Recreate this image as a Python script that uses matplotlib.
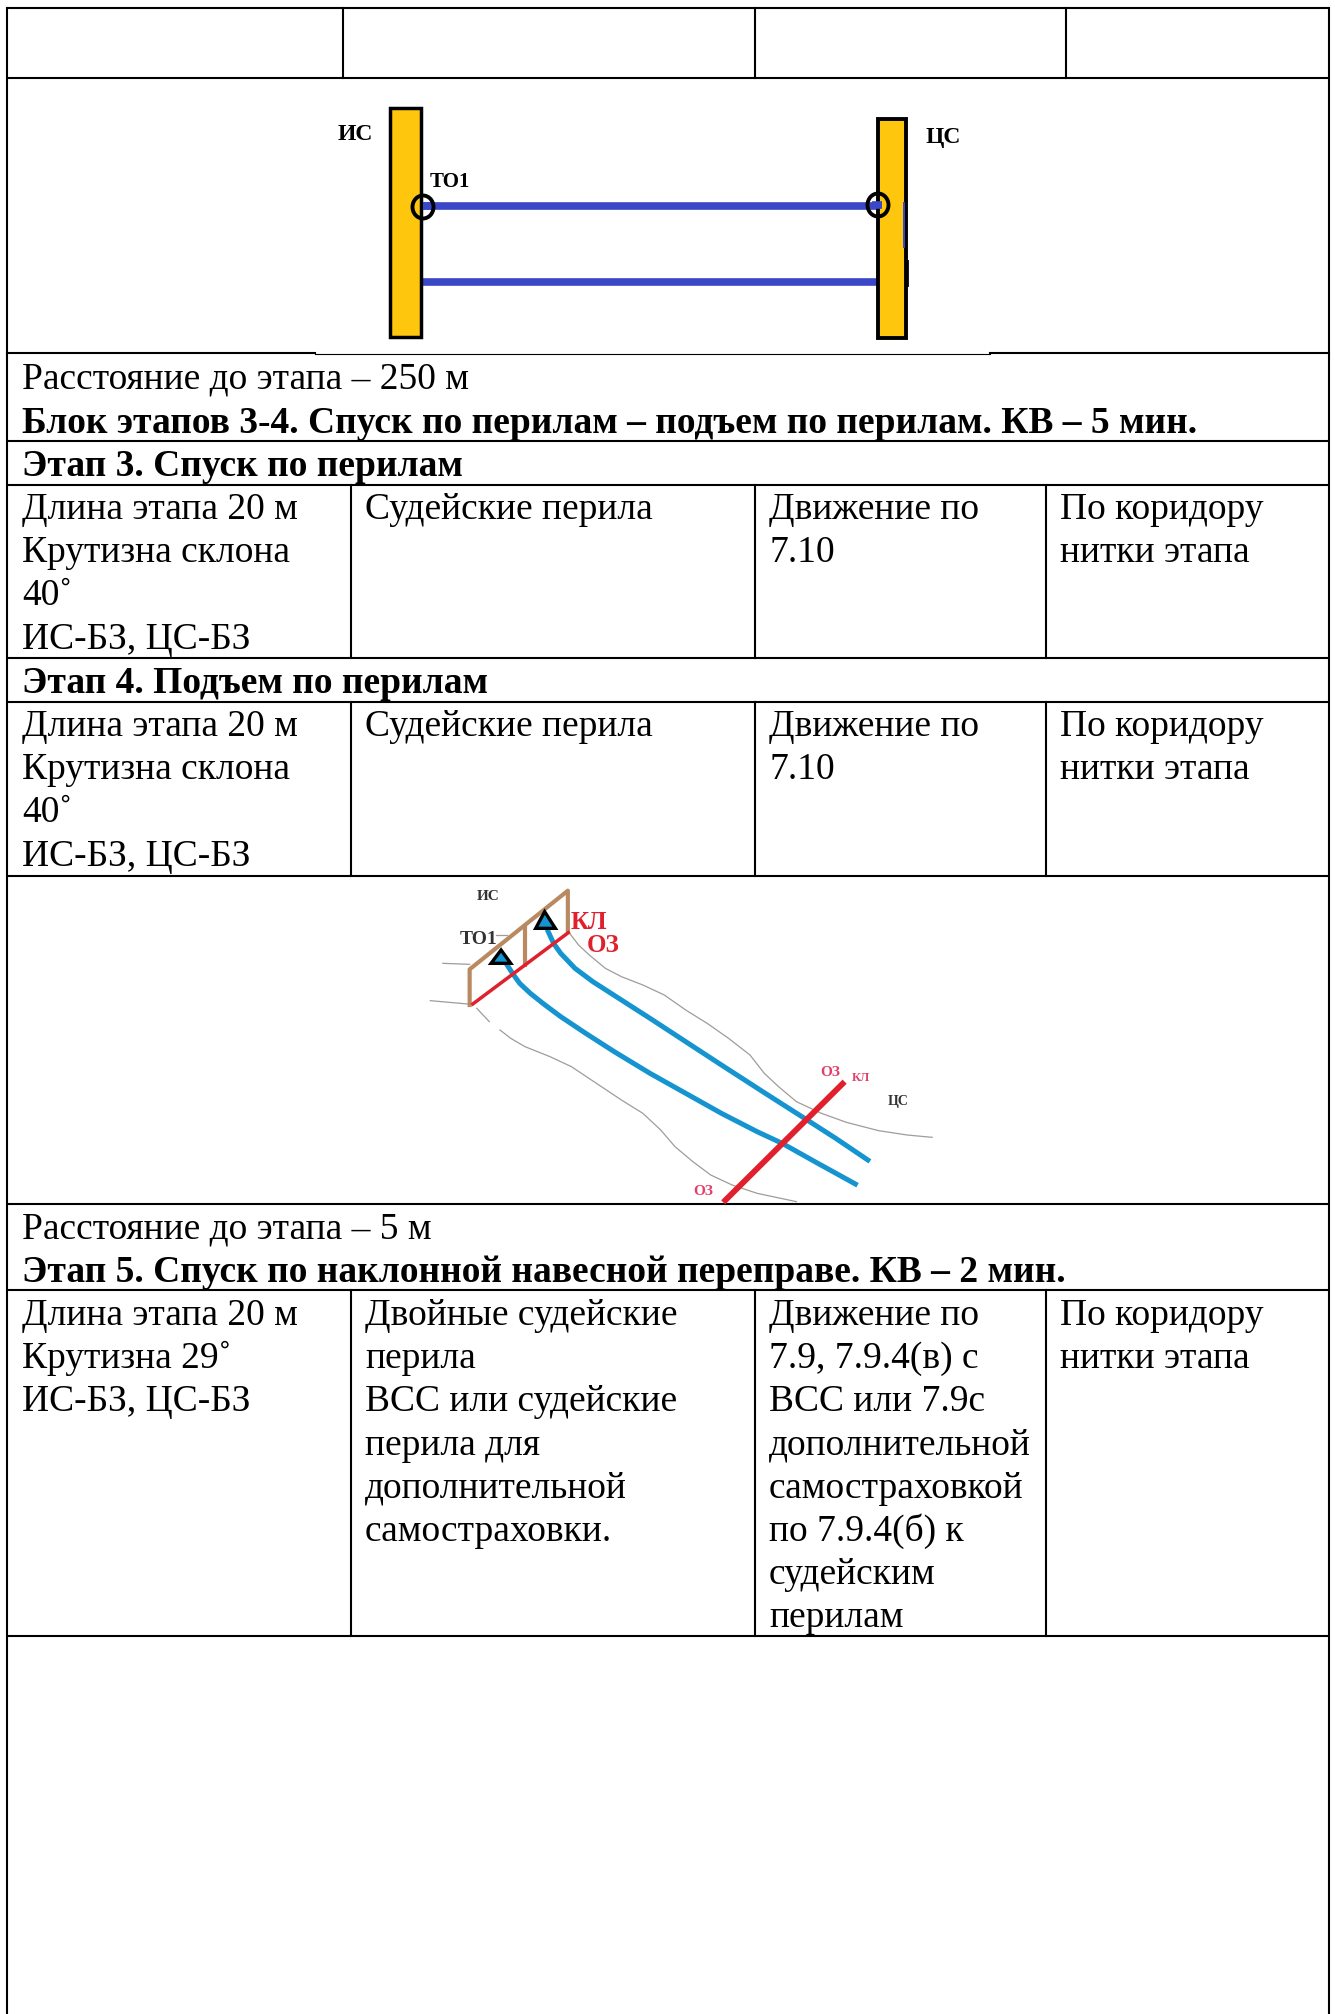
import matplotlib

matplotlib.use("Agg")
import matplotlib.pyplot as plt
from matplotlib.patches import Ellipse, Polygon, Rectangle

WIDTH, HEIGHT = 1335, 2014
SERIF = "Liberation Serif"
BLUE = "#3a48c8"
YELLOW = "#fec60c"
CYAN = "#1594d0"
RED = "#e0202c"
PINK = "#e0406a"
BROWN = "#b98a62"
GREY = "#a09c98"

# table rules, in reference pixels
H_RULES = [8, 78, 441, 485, 658, 702, 876, 1204, 1290, 1636]
HEAD_COLS = [343, 755, 1066]
BODY_COLS = [351, 755, 1046]
BODY_ROWS = [(485, 658), (702, 876), (1290, 1636)]

# text lines: baseline y, then text
PLAIN_LINES = [(388, "Расстояние до этапа – 250 м"), (1238, "Расстояние до этапа – 5 м")]
BOLD_LINES = [
    (433, "Блок этапов 3-4. Спуск по перилам – подъем по перилам. КВ – 5 мин."),
    (476, "Этап 3. Спуск по перилам"),
    (693, "Этап 4. Подъем по перилам"),
    (1282, "Этап 5. Спуск по наклонной навесной переправе. КВ – 2 мин."),
]
COL_X = [22, 365, 769, 1060]
ROW_BASE = [519, 736, 1325]
STAGE_CELLS = [
    ["Длина этапа 20 м", "Крутизна склона", "40˚", "ИС-БЗ, ЦС-БЗ"],
    ["Судейские перила"],
    ["Движение по", "7.10"],
    ["По коридору", "нитки этапа"],
]
LAST_CELLS = [
    ["Длина этапа 20 м", "Крутизна 29˚", "ИС-БЗ, ЦС-БЗ"],
    ["Двойные судейские", "перила", "ВСС или судейские", "перила для", "дополнительной", "самостраховки."],
    ["Движение по", "7.9, 7.9.4(в) с", "ВСС или 7.9с", "дополнительной", "самостраховкой", "по 7.9.4(б) к", "судейским", "перилам"],
    ["По коридору", "нитки этапа"],
]

CURVE_LOW = [(300, 285), (315, 310), (335, 340), (365, 370), (400, 400), (450, 440), (520, 490), (600, 545),
             (700, 610), (800, 670), (900, 730), (1000, 785), (1070, 820), (1170, 880), (1275, 942)]
CURVE_HIGH = [(415, 185), (430, 220), (450, 250), (490, 295), (540, 335), (620, 390), (700, 445), (800, 515),
              (900, 585), (1020, 668), (1140, 750), (1220, 805), (1310, 870)]
BANK_UPPER = [(475, 190), (500, 225), (530, 255), (575, 295), (620, 320), (680, 345), (740, 375), (800, 420),
              (860, 460), (920, 505), (980, 555), (1020, 610), (1060, 650), (1110, 695), (1180, 730),
              (1250, 757), (1340, 782), (1420, 795), (1490, 802)]
BANK_LOWER = [(280, 480), (310, 505), (350, 530), (420, 560), (480, 590), (550, 640), (620, 690), (680, 730),
              (730, 780), (770, 830), (820, 875), (870, 915), (930, 945), (1000, 970), (1110, 995)]
BANK_SHORT = [[(120, 280), (195, 283)], [(85, 392), (190, 402)], [(215, 415), (250, 455)], [(270, 195), (300, 195)]]
BROWN_LINES = [[(195, 405), (195, 298), (470, 62), (470, 185)], [(350, 170), (350, 285)]]
RED_LINES = [((200, 405), (475, 185), 2.5), ((1245, 635), (905, 997), 4.2)]
TRIANGLES = [[(283, 240), (255, 280), (310, 280)], [(405, 125), (380, 175), (435, 175)]]
SKETCH_LABELS = [
    (248, 78, "ИС", "#333333", 11),
    (220, 210, "ТО1", "#333333", 14),
    (530, 158, "КЛ", RED, 18),
    (570, 225, "ОЗ", RED, 18),
    (1205, 608, "ОЗ", PINK, 11),
    (1290, 625, "КЛ", PINK, 9),
    (1395, 695, "ЦС", "#333333", 10),
    (848, 965, "ОЗ", PINK, 11),
]


def sketch_xy(points):
    return [400 + x / 2.8 for x, _ in points], [870 + y / 3 for _, y in points]


def draw_table(ax):
    for y in H_RULES:
        ax.plot([7, 1329], [y, y], color="black", lw=1.5, solid_capstyle="butt")
    # the first drawing sits on top of this rule, so only its ends are heavy
    ax.plot([7, 315], [353, 353], color="black", lw=1.5)
    ax.plot([315, 990], [353.5, 353.5], color="black", lw=0.8)
    ax.plot([990, 1329], [353, 353], color="black", lw=1.5)
    ax.plot([7, 7], [8, HEIGHT], color="black", lw=1.5)
    ax.plot([1329, 1329], [8, HEIGHT], color="black", lw=1.5)
    for x in HEAD_COLS:
        ax.plot([x, x], [8, 78], color="black", lw=1.5)
    for top, bottom in BODY_ROWS:
        for x in BODY_COLS:
            ax.plot([x, x], [top, bottom], color="black", lw=1.5)


def draw_text(ax):
    size = 27
    for y, line in PLAIN_LINES:
        ax.text(22, y, line, fontsize=size, family=SERIF, va="baseline")
    for y, line in BOLD_LINES:
        ax.text(22, y, line, fontsize=size, family=SERIF, weight="bold", va="baseline")
    for base, cells in zip(ROW_BASE, [STAGE_CELLS, STAGE_CELLS, LAST_CELLS]):
        for x, cell in zip(COL_X, cells):
            for i, line in enumerate(cell):
                ax.text(x, base + i * 43.2, line, fontsize=size, family=SERIF, va="baseline")


def draw_first_sketch(ax):
    ax.plot([423, 878], [206, 206], color=BLUE, lw=5.5, solid_capstyle="butt")
    ax.plot([421, 882], [282, 282], color=BLUE, lw=5.5, solid_capstyle="butt")
    ax.add_patch(Rectangle((390, 108), 31, 229, fc=YELLOW, ec="black", lw=2.5, zorder=3))
    ax.add_patch(Rectangle((878, 119), 28, 219, fc=YELLOW, ec="black", lw=2.8, zorder=3))
    ax.plot([423, 435], [206, 206], color=BLUE, lw=5.5, zorder=3.5, solid_capstyle="butt")
    ax.plot([872, 882], [205, 205], color=BLUE, lw=5.5, zorder=3.5, solid_capstyle="butt")
    # marks left on the right post's edge
    ax.plot([904, 904], [203, 247], color=BLUE, lw=1.4, zorder=3.5)
    ax.plot([907, 907], [261, 285], color="black", lw=2, zorder=3.5)
    ax.add_patch(Ellipse((423, 207), 21, 23, fc="none", ec="black", lw=2.8, zorder=4))
    ax.add_patch(Ellipse((878, 205), 21, 23, fc="none", ec="black", lw=2.8, zorder=4))
    ax.text(355, 135, "ИС", fontsize=17, family=SERIF, weight="bold", ha="center", va="center")
    ax.text(943, 137, "ЦС", fontsize=17, family=SERIF, weight="bold", ha="center", va="center")
    ax.text(450, 182, "ТО1", fontsize=15, family=SERIF, weight="bold", ha="center", va="center")


def draw_second_sketch(ax):
    for curve in [BANK_UPPER, BANK_LOWER] + BANK_SHORT:
        ax.plot(*sketch_xy(curve), color=GREY, lw=0.9)
    for curve in BROWN_LINES:
        ax.plot(*sketch_xy(curve), color=BROWN, lw=3)
    for curve in [CURVE_LOW, CURVE_HIGH]:
        ax.plot(*sketch_xy(curve), color=CYAN, lw=3.6, solid_joinstyle="round")
    for start, end, width in RED_LINES:
        ax.plot(*sketch_xy([start, end]), color=RED, lw=width, solid_capstyle="butt")
    for tri in TRIANGLES:
        xs, ys = sketch_xy(tri)
        ax.add_patch(Polygon(list(zip(xs, ys)), fc=CYAN, ec="black", lw=2.4, zorder=4))
    for x, y, label, color, size in SKETCH_LABELS:
        px, py = sketch_xy([(x, y)])
        ax.text(px[0], py[0], label, color=color, fontsize=size, family=SERIF,
                weight="bold", ha="center", va="center")


def main():
    fig = plt.figure(figsize=(WIDTH / 100, HEIGHT / 100), dpi=100)
    ax = fig.add_axes([0, 0, 1, 1])
    ax.set_xlim(0, WIDTH)
    ax.set_ylim(HEIGHT, 0)
    ax.axis("off")
    draw_table(ax)
    draw_text(ax)
    draw_first_sketch(ax)
    draw_second_sketch(ax)
    fig.savefig("out.png", dpi=100)
    plt.close(fig)


if __name__ == "__main__":
    main()
